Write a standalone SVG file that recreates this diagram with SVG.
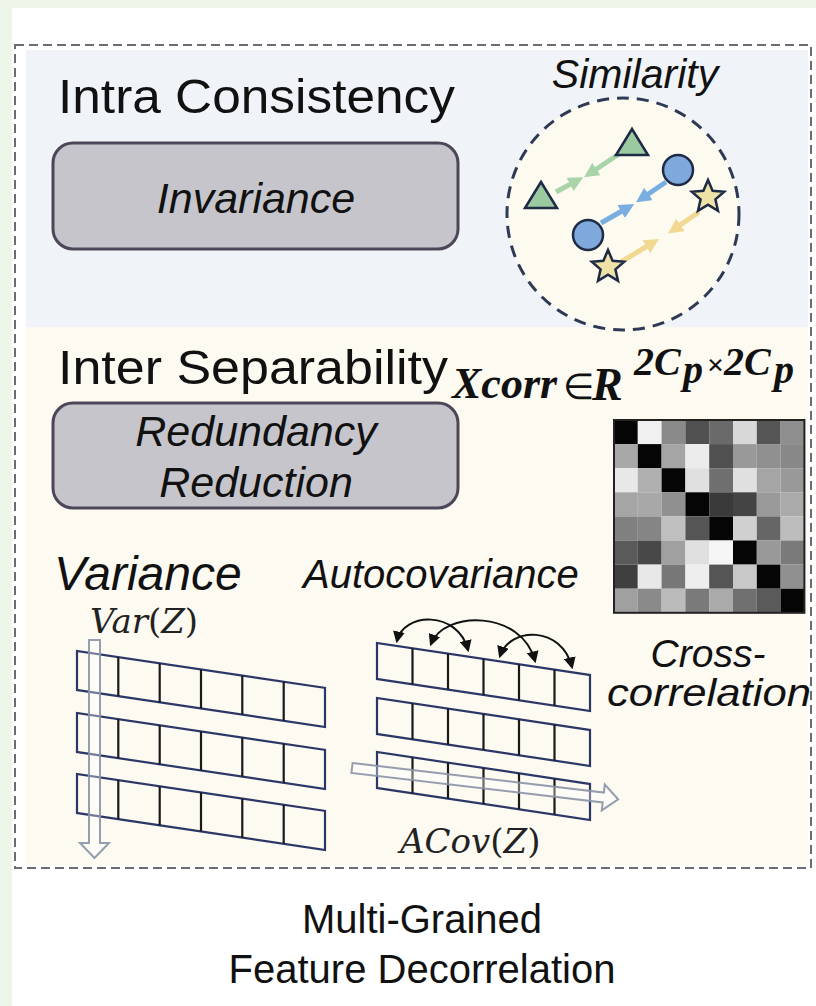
<svg xmlns="http://www.w3.org/2000/svg" width="816" height="1006" viewBox="0 0 816 1006">
<style>
.sans{font-family:"Liberation Sans",Arial,sans-serif;fill:#111}
.it{font-style:italic}
.math{font-family:"Liberation Serif","Times New Roman",serif;fill:#111}
.cm{font-family:"DejaVu Serif",serif;fill:#222}
.box{fill:#c6c5cb;stroke:#4d4658;stroke-width:3}
.row{fill:none;stroke:#2b3766;stroke-width:2.2}
.div{stroke:#1a1a1a;stroke-width:2.2}
.hollow{fill:#ffffff;fill-opacity:0.35;stroke:#8a93a6;stroke-width:2;stroke-opacity:0.9}
.shape{stroke:#1f2a45;stroke-width:2.5}
</style>
<defs>
<polygon id="star" points="0,-17 4.6,-6.2 16.2,-5.3 7.4,2.4 10,13.8 0,7.7 -10,13.8 -7.4,2.4 -16.2,-5.3 -4.6,-6.2"/>
<polygon id="tri" points="0,-17 16,9 -16,9"/>
<marker id="mg" viewBox="0 0 10 10" refX="6" refY="5" markerWidth="3" markerHeight="3" orient="auto"><path d="M0,0 L10,5 L0,10 z" fill="#a9d3a9"/></marker>
<marker id="mb" viewBox="0 0 10 10" refX="6" refY="5" markerWidth="3" markerHeight="3" orient="auto"><path d="M0,0 L10,5 L0,10 z" fill="#79aee0"/></marker>
<marker id="my" viewBox="0 0 10 10" refX="6" refY="5" markerWidth="3" markerHeight="3" orient="auto"><path d="M0,0 L10,5 L0,10 z" fill="#f1d893"/></marker>
<marker id="mk" viewBox="0 0 10 10" refX="8" refY="5" markerWidth="6" markerHeight="6" orient="auto-start-reverse"><path d="M0,0 L10,5 L0,10 z" fill="#111"/></marker>
</defs>

<!-- backgrounds -->
<rect x="0" y="0" width="816" height="1006" fill="#ffffff"/>
<rect x="0" y="0" width="816" height="8" fill="#eef6ea"/>
<rect x="0" y="0" width="12" height="1006" fill="#eef6ea"/>
<rect x="26" y="50" width="782" height="277" fill="#f0f4f9"/>
<rect x="26" y="327" width="782" height="539" fill="#fdfaf1"/>
<rect x="15" y="45" width="796" height="823" fill="none" stroke="#6b6b73" stroke-width="2" stroke-dasharray="9 5"/>

<!-- intra consistency -->
<g id="intra">
<text class="sans" x="58" y="113" font-size="48" textLength="397" lengthAdjust="spacingAndGlyphs">Intra Consistency</text>
</g>
<g id="invariance">
<rect class="box" x="53" y="143" width="405" height="106" rx="20"/>
<text class="sans it" x="256" y="213" font-size="43" text-anchor="middle">Invariance</text>
</g>

<!-- similarity -->
<g id="similarity">
<text class="sans it" x="635" y="88" font-size="41" text-anchor="middle">Similarity</text>
<circle cx="623" cy="214" r="116" fill="#fdfaf0" stroke="#2e3a55" stroke-width="3" stroke-dasharray="12 8"/>
</g>
<g id="sim-arrows" stroke-width="5" stroke-linecap="butt">
<line x1="556" y1="192" x2="578" y2="180" stroke="#a9d3a9" marker-end="url(#mg)"/>
<line x1="619" y1="154" x2="589" y2="174" stroke="#a9d3a9" marker-end="url(#mg)"/>
<line x1="666" y1="182" x2="641" y2="199" stroke="#79aee0" marker-end="url(#mb)"/>
<line x1="601" y1="223" x2="629" y2="207" stroke="#79aee0" marker-end="url(#mb)"/>
<line x1="699" y1="212" x2="673" y2="230" stroke="#f1d893" marker-end="url(#my)"/>
<line x1="621" y1="262" x2="654" y2="242" stroke="#f1d893" marker-end="url(#my)"/>
</g>
<g id="sim-shapes" class="shape">
<use href="#tri" x="632" y="146" fill="#9ccaa0"/>
<use href="#tri" x="541" y="199" fill="#9ccaa0"/>
<circle cx="678" cy="170" r="15" fill="#7fa9dd"/>
<circle cx="588" cy="235" r="15" fill="#7fa9dd"/>
<use href="#star" x="708" y="197" fill="#efe2a6"/>
<use href="#star" x="608" y="267" fill="#efe2a6"/>
</g>

<!-- inter separability -->
<g id="inter">
<text class="sans" x="58" y="384" font-size="48" textLength="390" lengthAdjust="spacingAndGlyphs">Inter Separability</text>
</g>
<g id="redundancy">
<rect class="box" x="53" y="403" width="405" height="105" rx="20"/>
<text class="sans it" x="256" y="446" font-size="43" text-anchor="middle">Redundancy</text>
<text class="sans it" x="256" y="497" font-size="43" text-anchor="middle">Reduction</text>
</g>

<!-- xcorr label -->
<g id="xcorr-label" class="math" font-weight="bold" font-style="italic">
<text x="452" y="398" font-size="44">Xcorr</text>
<text x="563" y="399" font-size="36" font-weight="normal" font-style="normal">∈</text>
<text x="592" y="400" font-size="46">R</text>
<text x="634" y="375" font-size="40">2C</text>
<text x="683" y="383" font-size="40">p</text>
<text x="707" y="375" font-size="30" font-style="normal">×</text>
<text x="724" y="375" font-size="40">2C</text>
<text x="774" y="383" font-size="40">p</text>
</g>

<!-- cross-correlation matrix -->
<g id="matrix">
<g stroke="none">
<rect x="614" y="420" width="23.8" height="24.1" fill="#050505"/><rect x="637.8" y="420" width="23.8" height="24.1" fill="#f0f0f0"/><rect x="661.6" y="420" width="23.8" height="24.1" fill="#8a8a8a"/><rect x="685.4" y="420" width="23.8" height="24.1" fill="#505050"/><rect x="709.2" y="420" width="23.8" height="24.1" fill="#6a6a6a"/><rect x="733" y="420" width="23.8" height="24.1" fill="#d8d8d8"/><rect x="756.8" y="420" width="23.8" height="24.1" fill="#555555"/><rect x="780.6" y="420" width="23.8" height="24.1" fill="#8f8f8f"/>
<rect x="614" y="444.1" width="23.8" height="24.1" fill="#a8a8a8"/><rect x="637.8" y="444.1" width="23.8" height="24.1" fill="#050505"/><rect x="661.6" y="444.1" width="23.8" height="24.1" fill="#a5a5a5"/><rect x="685.4" y="444.1" width="23.8" height="24.1" fill="#ececec"/><rect x="709.2" y="444.1" width="23.8" height="24.1" fill="#505050"/><rect x="733" y="444.1" width="23.8" height="24.1" fill="#999999"/><rect x="756.8" y="444.1" width="23.8" height="24.1" fill="#909090"/><rect x="780.6" y="444.1" width="23.8" height="24.1" fill="#888888"/>
<rect x="614" y="468.2" width="23.8" height="24.1" fill="#e8e8e8"/><rect x="637.8" y="468.2" width="23.8" height="24.1" fill="#b0b0b0"/><rect x="661.6" y="468.2" width="23.8" height="24.1" fill="#050505"/><rect x="685.4" y="468.2" width="23.8" height="24.1" fill="#e0e0e0"/><rect x="709.2" y="468.2" width="23.8" height="24.1" fill="#6f6f6f"/><rect x="733" y="468.2" width="23.8" height="24.1" fill="#e0e0e0"/><rect x="756.8" y="468.2" width="23.8" height="24.1" fill="#a5a5a5"/><rect x="780.6" y="468.2" width="23.8" height="24.1" fill="#999999"/>
<rect x="614" y="492.3" width="23.8" height="24.1" fill="#a5a5a5"/><rect x="637.8" y="492.3" width="23.8" height="24.1" fill="#a8a8a8"/><rect x="661.6" y="492.3" width="23.8" height="24.1" fill="#909090"/><rect x="685.4" y="492.3" width="23.8" height="24.1" fill="#050505"/><rect x="709.2" y="492.3" width="23.8" height="24.1" fill="#3a3a3a"/><rect x="733" y="492.3" width="23.8" height="24.1" fill="#444444"/><rect x="756.8" y="492.3" width="23.8" height="24.1" fill="#9a9a9a"/><rect x="780.6" y="492.3" width="23.8" height="24.1" fill="#aaaaaa"/>
<rect x="614" y="516.4" width="23.8" height="24.1" fill="#808080"/><rect x="637.8" y="516.4" width="23.8" height="24.1" fill="#858585"/><rect x="661.6" y="516.4" width="23.8" height="24.1" fill="#c0c0c0"/><rect x="685.4" y="516.4" width="23.8" height="24.1" fill="#555555"/><rect x="709.2" y="516.4" width="23.8" height="24.1" fill="#050505"/><rect x="733" y="516.4" width="23.8" height="24.1" fill="#d0d0d0"/><rect x="756.8" y="516.4" width="23.8" height="24.1" fill="#666666"/><rect x="780.6" y="516.4" width="23.8" height="24.1" fill="#bdbdbd"/>
<rect x="614" y="540.5" width="23.8" height="24.1" fill="#5a5a5a"/><rect x="637.8" y="540.5" width="23.8" height="24.1" fill="#484848"/><rect x="661.6" y="540.5" width="23.8" height="24.1" fill="#a0a0a0"/><rect x="685.4" y="540.5" width="23.8" height="24.1" fill="#e0e0e0"/><rect x="709.2" y="540.5" width="23.8" height="24.1" fill="#f5f5f5"/><rect x="733" y="540.5" width="23.8" height="24.1" fill="#050505"/><rect x="756.8" y="540.5" width="23.8" height="24.1" fill="#999999"/><rect x="780.6" y="540.5" width="23.8" height="24.1" fill="#7a7a7a"/>
<rect x="614" y="564.6" width="23.8" height="24.1" fill="#3f3f3f"/><rect x="637.8" y="564.6" width="23.8" height="24.1" fill="#e8e8e8"/><rect x="661.6" y="564.6" width="23.8" height="24.1" fill="#777777"/><rect x="685.4" y="564.6" width="23.8" height="24.1" fill="#eeeeee"/><rect x="709.2" y="564.6" width="23.8" height="24.1" fill="#555555"/><rect x="733" y="564.6" width="23.8" height="24.1" fill="#c8c8c8"/><rect x="756.8" y="564.6" width="23.8" height="24.1" fill="#050505"/><rect x="780.6" y="564.6" width="23.8" height="24.1" fill="#909090"/>
<rect x="614" y="588.7" width="23.8" height="24.1" fill="#a0a0a0"/><rect x="637.8" y="588.7" width="23.8" height="24.1" fill="#8a8a8a"/><rect x="661.6" y="588.7" width="23.8" height="24.1" fill="#bbbbbb"/><rect x="685.4" y="588.7" width="23.8" height="24.1" fill="#7a7a7a"/><rect x="709.2" y="588.7" width="23.8" height="24.1" fill="#aaaaaa"/><rect x="733" y="588.7" width="23.8" height="24.1" fill="#707070"/><rect x="756.8" y="588.7" width="23.8" height="24.1" fill="#5a5a5a"/><rect x="780.6" y="588.7" width="23.8" height="24.1" fill="#050505"/>
</g>
<rect x="614" y="420" width="190.4" height="192.8" fill="none" stroke="#222" stroke-width="2"/>
<text class="sans it" x="708" y="667" font-size="39" text-anchor="middle">Cross-</text>
<text class="sans it" x="709" y="706" font-size="39" text-anchor="middle" textLength="204" lengthAdjust="spacingAndGlyphs">correlation</text>
</g>

<!-- variance -->
<g id="variance">
<text class="sans it" x="54" y="590" font-size="48">Variance</text>
<text class="cm" x="90" y="633" font-size="34"><tspan font-style="italic">Var</tspan>(<tspan font-style="italic">Z</tspan>)</text>
<g transform="translate(77,651) skewY(8.47)">
<rect class="row" x="0" y="0" width="248" height="39"/>
<path class="div" d="M41.3,0V39M82.7,0V39M124,0V39M165.3,0V39M206.7,0V39"/>
</g>
<g transform="translate(77,713) skewY(8.47)">
<rect class="row" x="0" y="0" width="248" height="39"/>
<path class="div" d="M41.3,0V39M82.7,0V39M124,0V39M165.3,0V39M206.7,0V39"/>
</g>
<g transform="translate(77,774) skewY(8.47)">
<rect class="row" x="0" y="0" width="248" height="39"/>
<path class="div" d="M41.3,0V39M82.7,0V39M124,0V39M165.3,0V39M206.7,0V39"/>
</g>
<polygon class="hollow" points="89,640 100,640 100,843 109,843 94.5,858 80,843 89,843"/>
</g>

<!-- autocovariance -->
<g id="autocovariance">
<text class="sans it" x="303" y="588" font-size="40">Autocovariance</text>
<g transform="translate(377,643) skewY(8.53)">
<rect class="row" x="0" y="0" width="213" height="36"/>
<path class="div" d="M35.5,0V36M71,0V36M106.5,0V36M142,0V36M177.5,0V36"/>
</g>
<g transform="translate(377,698) skewY(8.53)">
<rect class="row" x="0" y="0" width="213" height="36"/>
<path class="div" d="M35.5,0V36M71,0V36M106.5,0V36M142,0V36M177.5,0V36"/>
</g>
<g transform="translate(377,752) skewY(8.53)">
<rect class="row" x="0" y="0" width="213" height="36"/>
<path class="div" d="M35.5,0V36M71,0V36M106.5,0V36M142,0V36M177.5,0V36"/>
</g>
<g transform="translate(352,768) rotate(6.7)">
<polygon class="hollow" points="0,-5 253,-5 253,-13 268,0 253,13 253,5 0,5"/>
</g>
<text class="cm" x="400" y="853" font-size="34"><tspan font-style="italic">ACov</tspan>(<tspan font-style="italic">Z</tspan>)</text>
</g>

<!-- autocovariance arcs -->
<g id="connectors" fill="none" stroke="#111" stroke-width="2">
<path d="M397,641 C403,612 458,610 468,650" marker-start="url(#mk)" marker-end="url(#mk)"/>
<path d="M431,644 C444,610 522,610 535,661" marker-start="url(#mk)" marker-end="url(#mk)"/>
<path d="M500,656 C510,626 562,626 572,667" marker-start="url(#mk)" marker-end="url(#mk)"/>
</g>

<!-- caption -->
<g id="caption">
<text class="sans" x="422" y="933" font-size="40" text-anchor="middle">Multi-Grained</text>
<text class="sans" x="422" y="983" font-size="40" text-anchor="middle">Feature Decorrelation</text>
</g>
</svg>
